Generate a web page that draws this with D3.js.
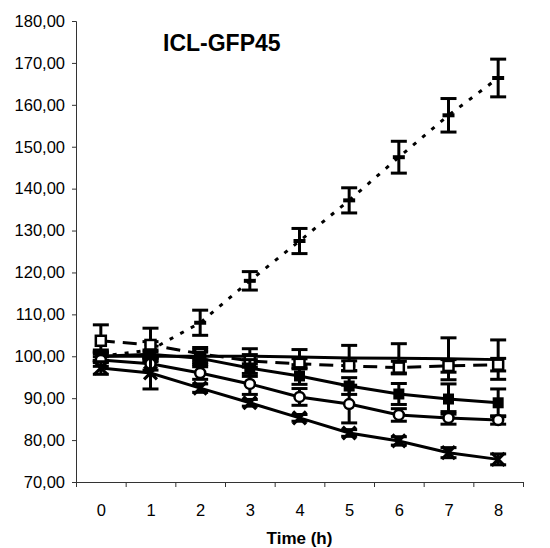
<!DOCTYPE html>
<html>
<head>
<meta charset="utf-8">
<script src="https://cdn.jsdelivr.net/npm/d3@7"></script>
<style>
body{margin:0;background:#fff;}
svg{display:block;font-family:Arial,"Liberation Sans",sans-serif;}
.axis path,.axis line{stroke:#333;stroke-width:1;}
.axis text{font-size:16.5px;fill:#000;}
</style>
</head>
<body>
<script>
// values
var hours=[0,1,2,3,4,5,6,7,8];
var yTicks=[70,80,90,100,110,120,130,140,150,160,170,180];

var dottedMean=[100,101.5,108,118,127.5,137.2,147.5,157.5,166.4];
var dottedErr=[1.5,2,3,2.2,3,3,3.8,4,4.5];
var flatMean=[100,100,100,100,99.8,99.6,99.5,99.4,99.2];
var flatErr=[1,1,1.5,1.8,1.8,3,3.5,5,4.7];
var openSqMean=[103.7,102.7,100.6,98.9,98.2,97.7,97.3,97.7,98];
var openSqErr=[3.8,4,1.5,1.5,1.2,1.2,1.5,1.5,1.5];
var filledSqMean=[100,100.5,99.5,97.2,95.3,92.9,91,89.8,88.9];
var filledSqErr=[1,1,1.5,2,2,2,2.5,3.6,3.3];
var circleMean=[99.1,98.2,96,93.4,90.3,88.6,86,85.3,84.8];
var circleErr=[1.5,1.5,1.5,2.5,2,4.5,1.5,1.5,1];
var crossMean=[97.2,96,92.4,88.9,85.3,81.7,79.8,77,75.4];
var crossErr=[1.5,3.8,1,0.8,0.8,0.8,1,1.2,1.3];

var width=550,height=548;
var plotLeft=76,plotRight=523,plotTop=21,plotBottom=482;

var svg=d3.select("body").append("svg").attr("width",width).attr("height",height);

var x=d3.scaleLinear().domain([-0.5,8.5]).range([plotLeft,plotRight]);
var y=d3.scaleLinear().domain([70,180]).range([plotBottom,plotTop]);

var comma=function(d) {return d3.format(".2f")(d).replace(".",",");};

// y axis
svg.append("g").attr("class","axis").attr("transform","translate("+plotLeft+",0)")
	.call(d3.axisLeft(y).tickValues(yTicks).tickSize(4).tickPadding(7).tickFormat(comma));

// x axis: ticks at the category boundaries, labels at the centres
var bounds=hours.map(function(h) {return h-0.5;}).concat([8.5]);
svg.append("g").attr("class","axis").attr("transform","translate(0,"+plotBottom+")")
	.call(d3.axisBottom(x).tickValues(bounds).tickSize(5).tickFormat(""));
svg.append("g").attr("class","axis").attr("transform","translate(0,"+plotBottom+")")
	.call(d3.axisBottom(x).tickValues(hours).tickSize(0).tickPadding(22).tickFormat(d3.format("d")))
	.select(".domain").remove();

svg.append("text").attr("x",(plotLeft+plotRight)/2).attr("y",544).attr("text-anchor","middle")
	.style("font-size","17px").style("font-weight","bold").text("Time (h)");

svg.append("text").attr("x",163).attr("y",51)
	.style("font-size","23px").style("font-weight","bold").text("ICL-GFP45");

var series=[
	{mean:dottedMean,err:dottedErr,dash:"4,8",marker:"dash"},
	{mean:flatMean,err:flatErr,dash:null,marker:"none"},
	{mean:openSqMean,err:openSqErr,dash:"14,8",marker:"openSquare"},
	{mean:filledSqMean,err:filledSqErr,dash:null,marker:"filledSquare"},
	{mean:circleMean,err:circleErr,dash:null,marker:"circle"},
	{mean:crossMean,err:crossErr,dash:null,marker:"cross"}
];

var line=d3.line().x(function(d,i) {return x(hours[i]);}).y(function(d) {return y(d);});

series.forEach(function(s) {
	var g=svg.append("g");
	g.append("path").datum(s.mean).attr("d",line)
		.attr("fill","none").attr("stroke","#000").attr("stroke-width",3)
		.attr("stroke-dasharray",s.dash);

	var rows=hours.map(function(h,i) {return {h:h,m:s.mean[i],e:s.err[i]};});
	var eb=g.selectAll(".eb").data(rows).enter().append("g").attr("class","eb")
		.attr("stroke","#000").attr("stroke-width",3);
	eb.append("line").attr("x1",function(d) {return x(d.h);}).attr("x2",function(d) {return x(d.h);})
		.attr("y1",function(d) {return y(d.m-d.e);}).attr("y2",function(d) {return y(d.m+d.e);});
	[-1,1].forEach(function(sign) {
		eb.append("line").attr("x1",function(d) {return x(d.h)-8;}).attr("x2",function(d) {return x(d.h)+8;})
			.attr("y1",function(d) {return y(d.m+sign*d.e);}).attr("y2",function(d) {return y(d.m+sign*d.e);});
	});

	var mk=g.selectAll(".mk").data(rows).enter().append("g").attr("class","mk")
		.attr("transform",function(d) {return "translate("+x(d.h)+","+y(d.m)+")";});
	if (s.marker=="dash") {
		mk.append("line").attr("x1",-6).attr("x2",6).attr("stroke","#000").attr("stroke-width",4);
	} else if (s.marker=="openSquare") {
		mk.append("rect").attr("x",-5).attr("y",-5).attr("width",10).attr("height",10)
			.attr("fill","#fff").attr("stroke","#000").attr("stroke-width",2.5);
	} else if (s.marker=="filledSquare") {
		mk.append("rect").attr("x",-5.5).attr("y",-5.5).attr("width",11).attr("height",11).attr("fill","#000");
	} else if (s.marker=="circle") {
		mk.append("circle").attr("r",5).attr("fill","#fff").attr("stroke","#000").attr("stroke-width",2.5);
	} else if (s.marker=="cross") {
		mk.append("path").attr("d",d3.symbol(d3.symbolTimes,110)).attr("fill","none")
			.attr("stroke","#000").attr("stroke-width",3.2);
	}
});
</script>
</body>
</html>
